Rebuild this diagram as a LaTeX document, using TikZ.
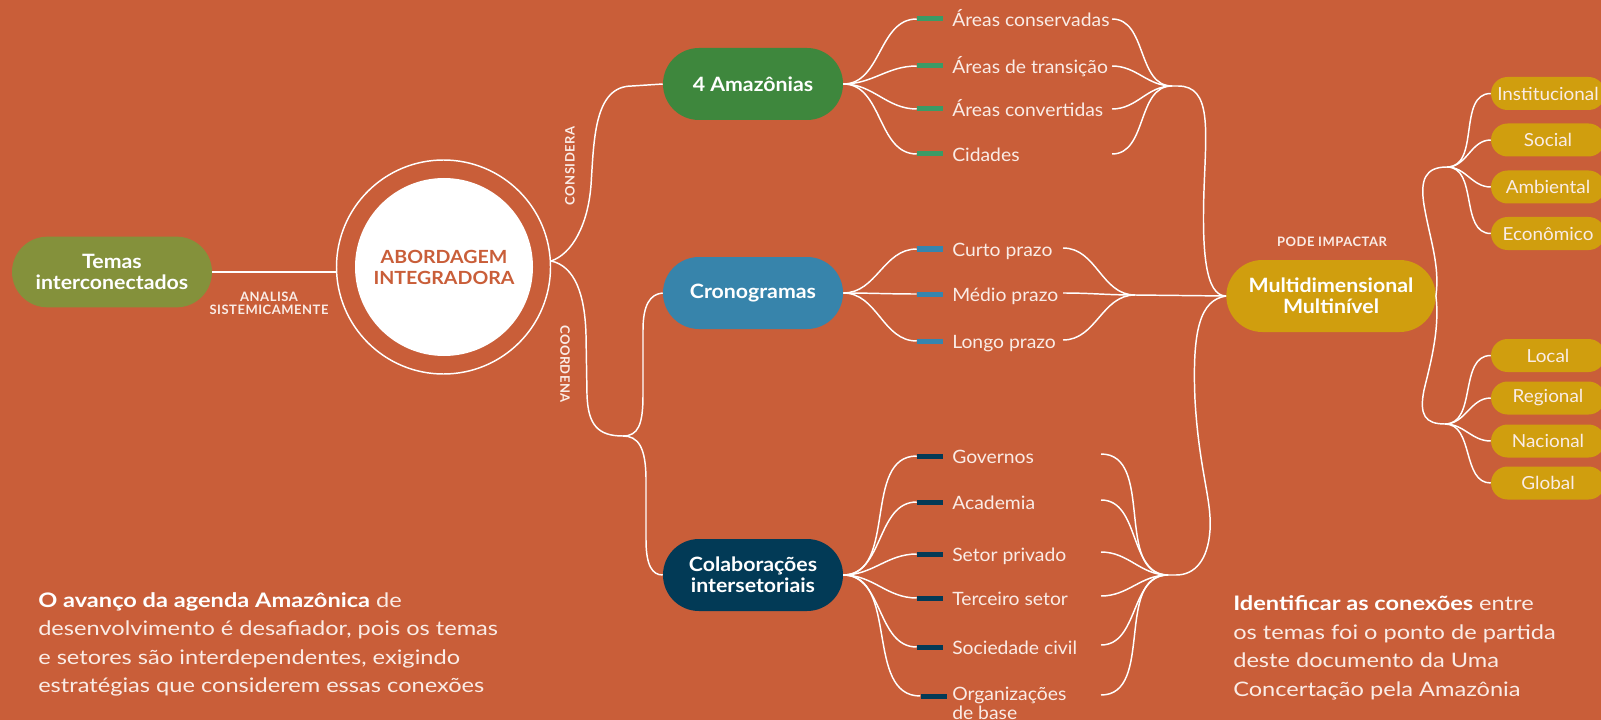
\documentclass[tikz,border=0pt]{standalone}
\usepackage{fontspec}
\setmainfont{Lato}
\newfontfamily\hubfont[FakeStretch=1.08]{Lato}
\newfontfamily\leaffont[FakeStretch=1.05]{Lato}
\newfontfamily\notefont[FakeStretch=1.18]{Lato}
\newcommand\tightlines{\setlength{\lineskiplimit}{-20pt}\setlength{\lineskip}{0pt}}
\usetikzlibrary{shapes.misc}
\definecolor{bg}{RGB}{201,94,57}
\definecolor{olive}{RGB}{132,145,59}
\definecolor{amaz}{RGB}{62,135,61}
\definecolor{crono}{RGB}{55,132,171}
\definecolor{colab}{RGB}{2,58,86}
\definecolor{gold}{RGB}{208,158,14}
\definecolor{bargreen}{RGB}{58,155,102}
\definecolor{barblue}{RGB}{53,133,174}
\definecolor{barnavy}{RGB}{3,58,86}
\definecolor{txt}{RGB}{250,236,230}
\begin{document}
\begin{tikzpicture}[x=0.75pt,y=-0.75pt,
  hub/.style={rounded rectangle, fill=#1, text=white, align=center,
    font=\hubfont\bfseries\fontsize{14.8}{15.75}\selectfont,
    minimum width=135pt, minimum height=54pt, inner sep=0pt},
  bar/.style={fill=#1, minimum width=19.5pt, minimum height=3.75pt, inner sep=0pt},
  leaf/.style={anchor=base west, text=txt, inner sep=0pt,
    font=\leaffont\fontsize{13.8}{15}\selectfont},
  pill/.style={rounded rectangle, fill=gold, text=txt, inner sep=0pt,
    font=\leaffont\fontsize{13.5}{14}\selectfont, minimum width=85.5pt, minimum height=24.75pt},
  tag/.style={text=txt, align=center, inner sep=0pt,
    font=\bfseries\fontsize{9.75}{9.9}\selectfont\addfontfeatures{LetterSpace=4}},
  note/.style={anchor=base west, text=txt, inner sep=0pt,
    font=\notefont\fontsize{15}{21}\selectfont},
  link/.style={draw=white, line width=1.1pt},
  fan/.style={link, out=0, in=180}
]
\useasboundingbox (0,0) rectangle (1601,720);
\fill[bg] (0,0) rectangle (1601,720);

% central approach and its input
\node[hub=olive, minimum width=150pt, minimum height=53pt] (te) at (112,272) {Temas\\interconectados};
\node[circle, draw=white, line width=1.1pt, minimum size=160.5pt, inner sep=0pt] (ring) at (443.5,267) {};
\node[circle, fill=white, minimum size=133.5pt, inner sep=0pt, text=bg, align=center,
  font=\hubfont\bfseries\fontsize{13.6}{15.75}\selectfont] (core) at (444,267) {ABORDAGEM\\INTEGRADORA};
\draw[link] (te.east) -- (te.east -| ring.west);
\node[tag] (tagA) at (269,303.5) {ANALISA\\SISTEMICAMENTE};

% main branches
\node[hub=amaz] (am) at (753,84) {4 Amazônias};
\node[hub=crono] (cr) at (753,293) {Cronogramas};
\node[hub=colab] (co) at (753,575) {Colaborações\\intersetoriais};
\node[hub=gold, minimum width=157pt] (md) at (1331,296) {Multidimensional\\Multinível};

\coordinate (J) at (551,261);
\coordinate (K) at (623,436);
\draw[link] (J) .. controls (572,254) and (588,225) .. (591,185)
  .. controls (594,140) and (594,86) .. (632,86) -- (am.west);
\draw[link] (J) .. controls (575,266) and (585,295) .. (586,335) -- (587,395)
  .. controls (588,425) and (598,436) .. (K);
\draw[link] (K) .. controls (638,436) and (643,425) .. (643,395) -- (643,330)
  .. controls (643,305) and (650,294) .. (cr.west);
\draw[link] (K) .. controls (638,436) and (646,447) .. (646,480) -- (646,540)
  .. controls (646,565) and (652,575) .. (co.west);
\node[tag, rotate=90] (tagC) at (570,166) {CONSIDERA};
\node[tag, rotate=-90] (tagD) at (565,364) {COORDENA};

% 4 Amazonias
\foreach \i/\y/\t in {1/19/Áreas conservadas, 2/66/Áreas de transição, 3/109/Áreas convertidas, 4/154/Cidades}{
  \node[bar=bargreen] (a\i) at (930,\y) {};
  \node[leaf] (la\i) at (952,\y+7.5) {\t};
  \draw[fan] (am.east) to (a\i.west);
  \coordinate (ra\i) at (1112,\y);
}
\coordinate (mA) at (1172,86);
\foreach \i in {1,...,4}{\draw[fan] (ra\i) to (mA);}

% Cronogramas
\foreach \i/\y/\t in {1/249/Curto prazo, 2/294/Médio prazo, 3/341/Longo prazo}{
  \node[bar=barblue] (c\i) at (930,\y) {};
  \node[leaf] (lc\i) at (952,\y+7.5) {\t};
  \draw[fan] (cr.east) to (c\i.west);
  \coordinate (rc\i) at (1063,\y-1);
}
\coordinate (mC) at (1135,295);
\foreach \i in {1,...,3}{\draw[fan] (rc\i) to (mC);}
\draw[link] (mC) -- (md.west);

% Colaboracoes intersetoriais
\foreach \i/\y/\t in {1/456/Governos, 2/502/Academia, 3/554/Setor privado, 4/598/Terceiro setor, 5/647/Sociedade civil}{
  \node[bar=barnavy] (s\i) at (930,\y) {};
  \node[leaf] (ls\i) at (952,\y+7.5) {\t};
  \draw[fan] (co.east) to (s\i.west);
  \coordinate (rs\i) at (1101,\y-2);
}
\node[bar=barnavy] (s6) at (933.5,696) {};
\node[leaf, anchor=south west, align=left,
  font=\leaffont\fontsize{13.8}{13.6}\selectfont\tightlines] (ls6) at (952,719.5) {Organizações\\de base};
\draw[fan] (co.east) to (s6.west);
\coordinate (rs6) at (1101,695);
\coordinate (mS) at (1168,575);
\foreach \i in {1,...,6}{\draw[fan] (rs\i) to (mS);}

% merges into the multidimensional node
\draw[link] (mA) -- (1178,86) .. controls (1212,86) and (1206,130) .. (1204,190)
  .. controls (1202,250) and (1205,296) .. (md.west);
\draw[link] (md.west) .. controls (1200,300) and (1192,330) .. (1195,400)
  .. controls (1199,470) and (1212,500) .. (1210,530)
  .. controls (1208,560) and (1195,575) .. (1176,575) -- (mS);
\node[tag] (tagP) at (1332,242) {PODE IMPACTAR};

% dimensions and levels
\coordinate (mT) at (1447,167);
\coordinate (mB) at (1445,424);
\draw[link] (md.east) .. controls (1440,265) and (1430,240) .. (1424,205)
  .. controls (1420,180) and (1425,167) .. (mT);
\draw[link] (md.east) .. controls (1440,330) and (1430,365) .. (1424,390)
  .. controls (1419,415) and (1425,424) .. (mB);
\foreach \i/\y/\t in {1/93.5/Institucional, 2/140/Social, 3/187/Ambiental, 4/233.5/Econômico}{
  \node[pill] (d\i) at (1548,\y) {\t};
  \draw[fan] (mT) to (d\i.west);
}
\foreach \i/\y/\t in {1/355.5/Local, 2/398/Regional, 3/441/Nacional, 4/483/Global}{
  \node[pill] (n\i) at (1548,\y) {\t};
  \draw[fan] (mB) to (n\i.west);
}

% closing notes
\node[note] (nl1) at (38,607) {\textcolor{white}{\bfseries O avanço da agenda Amazônica} de};
\node[note] (nl2) at (38,635.5) {desenvolvimento é desafiador, pois os temas};
\node[note] (nl3) at (38,664) {e setores são interdependentes, exigindo};
\node[note] (nl4) at (38,692.5) {estratégias que considerem essas conexões};
\node[note] (nr1) at (1233,610) {\textcolor{white}{\bfseries Identificar as conexões} entre};
\node[note] (nr2) at (1233,639) {os temas foi o ponto de partida};
\node[note] (nr3) at (1233,667) {deste documento da Uma};
\node[note] (nr4) at (1233,696) {Concertação pela Amazônia};
\end{tikzpicture}
\end{document}
